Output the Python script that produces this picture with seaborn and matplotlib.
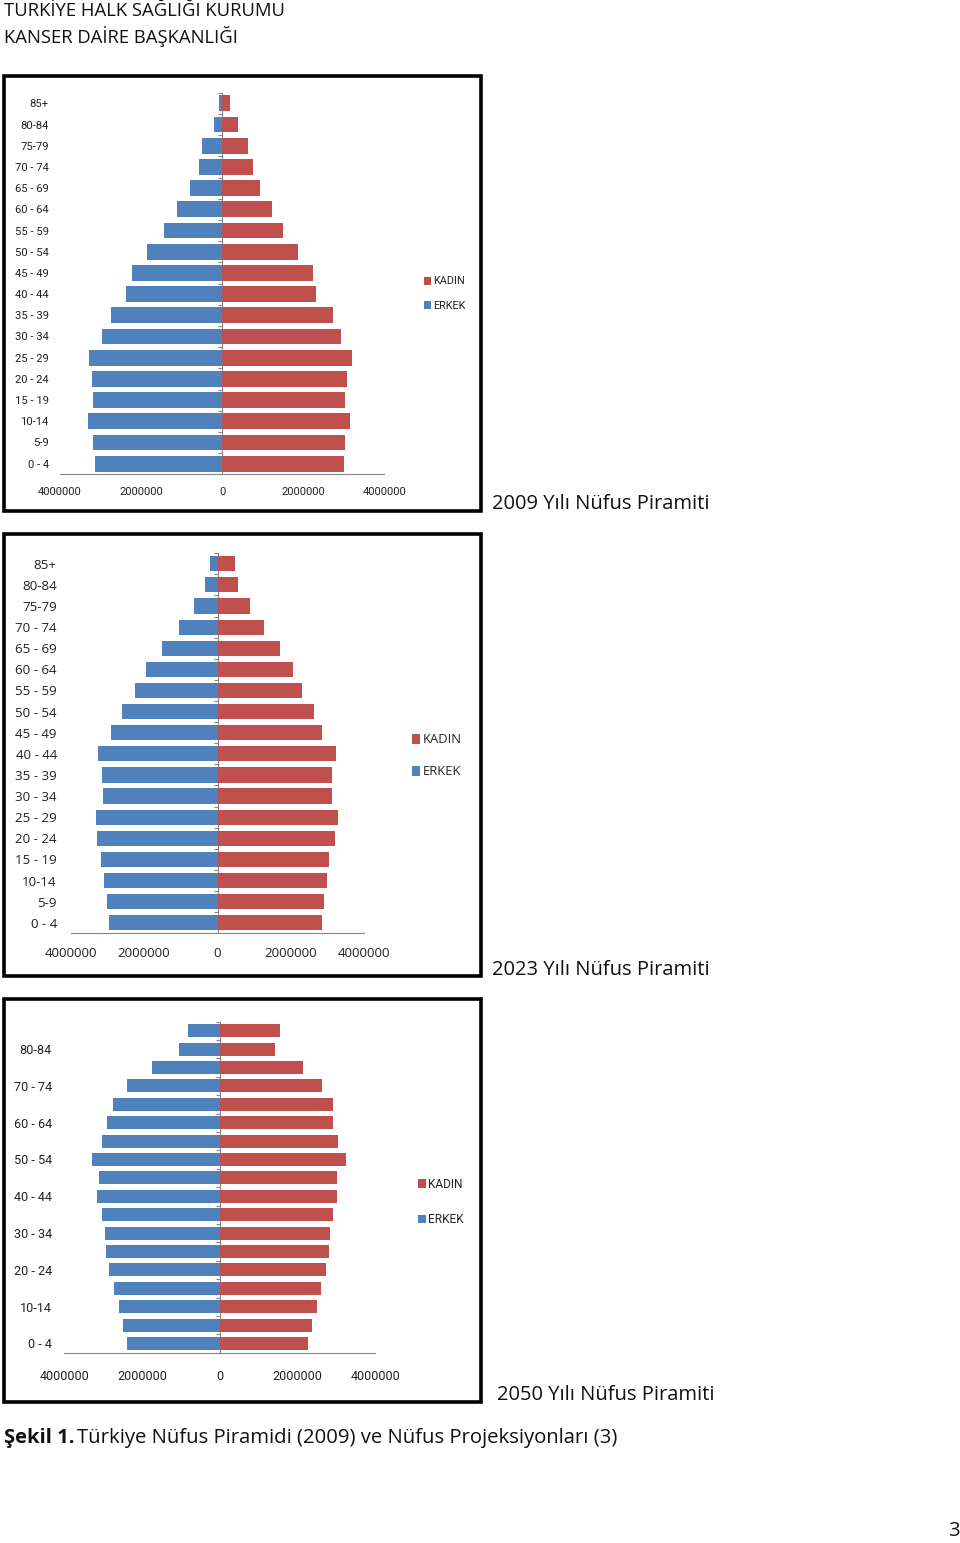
import numpy as np
import pandas as pd
import seaborn as sns
import matplotlib.pyplot as plt
from matplotlib.patches import Rectangle

# age groups, bottom (0-4) to top (85+)
ages = ["0 - 4", "5-9", "10-14", "15 - 19", "20 - 24", "25 - 29", "30 - 34",
        "35 - 39", "40 - 44", "45 - 49", "50 - 54", "55 - 59", "60 - 64",
        "65 - 69", "70 - 74", "75-79", "80-84", "85+"]

erkek_2009 = [3140000, 3180000, 3310000, 3180000, 3200000, 3290000, 2970000, 2740000, 2360000,
              2220000, 1850000, 1440000, 1110000, 800000, 570000, 490000, 205000, 74000]
kadin_2009 = [3010000, 3020000, 3160000, 3040000, 3090000, 3210000, 2920000, 2740000, 2310000,
              2230000, 1860000, 1490000, 1240000, 940000, 750000, 630000, 390000, 200000]

erkek_2023 = [2960000, 3010000, 3100000, 3170000, 3270000, 3310000, 3120000, 3150000, 3260000,
              2890000, 2600000, 2250000, 1950000, 1520000, 1060000, 630000, 340000, 210000]
kadin_2023 = [2860000, 2900000, 2980000, 3040000, 3190000, 3270000, 3110000, 3110000, 3220000,
              2860000, 2620000, 2300000, 2050000, 1690000, 1260000, 890000, 570000, 470000]

erkek_2050 = [2400000, 2490000, 2600000, 2730000, 2840000, 2920000, 2960000, 3030000, 3160000,
              3110000, 3280000, 3030000, 2900000, 2760000, 2400000, 1740000, 1050000, 810000]
kadin_2050 = [2280000, 2380000, 2500000, 2610000, 2720000, 2810000, 2840000, 2900000, 3010000,
              3010000, 3240000, 3040000, 2910000, 2900000, 2640000, 2130000, 1410000, 1560000]

x_ticks = [-4000000, -2000000, 0, 2000000, 4000000]
x_ticklabels = ["4000000", "2000000", "0", "2000000", "4000000"]
captions = ["2009 Yılı Nüfus Piramiti", "2023 Yılı Nüfus Piramiti", "2050 Yılı Nüfus Piramiti"]

BLUE = "#4F81BD"
RED = "#C0504D"
GREY = "#868686"
W, H = 960, 1543

sns.set_style("white")
plt.rcParams["font.family"] = ["Open Sans", "DejaVu Sans"]

fig = plt.figure(figsize=(W / 100, H / 100), dpi=100)


def fx(x):
    return x / W


def fy(y):
    return 1 - y / H


def pyramid(erkek, kadin, frame, box, bar_w, font, fsize, ypad, xpad, leg_xy, leg_size, leg_space,
            cap_xy, every_other=False):
    # frame around the chart
    l, t, r, b = frame
    fig.add_artist(Rectangle((fx(l), fy(b)), (r - l) / W, (b - t) / H, transform=fig.transFigure,
                             fill=False, ec="black", lw=2.6))
    al, at, ar, ab = box
    ax = fig.add_axes([fx(al), fy(ab), (ar - al) / W, (ab - at) / H])
    df = pd.DataFrame({
        "yas": ages + ages,
        "cins": ["KADIN"] * len(ages) + ["ERKEK"] * len(ages),
        "nufus": list(kadin) + [-v for v in erkek],
    })
    sns.barplot(data=df, x="nufus", y="yas", hue="cins", order=ages[::-1],
                hue_order=["KADIN", "ERKEK"], palette={"KADIN": RED, "ERKEK": BLUE},
                dodge=False, width=bar_w, orient="h", saturation=1, errorbar=None,
                linewidth=0, ax=ax)
    ax.set_xlim(-4000000, 4000000)
    ax.set_ylim(len(ages) - 0.5, -0.5)
    ax.set_xlabel("")
    ax.set_ylabel("")
    ax.set_xticks(x_ticks)
    ax.set_xticklabels(x_ticklabels, family=font, fontsize=fsize, color="#222222")
    labels = ages[::-1]
    if every_other:
        labels = [lab if i % 2 == 1 else "" for i, lab in enumerate(labels)]
    ax.set_yticks(range(len(ages)))
    ax.set_yticklabels(labels, family=font, fontsize=fsize, color="#222222")
    ax.tick_params(axis="x", length=4, width=0.8, color=GREY, pad=xpad)
    ax.tick_params(axis="y", length=0, pad=ypad)
    for s in ["top", "right", "left"]:
        ax.spines[s].set_visible(False)
    ax.spines["bottom"].set_color(GREY)
    ax.spines["bottom"].set_linewidth(0.8)
    ax.patch.set_alpha(0)

    # vertical axis at zero with small category ticks
    sec = ax.secondary_yaxis(0.5)
    sec.set_yticks(np.arange(-0.5, len(ages), 1))
    sec.set_yticklabels([])
    sec.tick_params(direction="in", length=3, width=0.8, color=GREY)
    for s in sec.spines.values():
        s.set_color(GREY)
        s.set_linewidth(0.8)

    handles, labs = ax.get_legend_handles_labels()
    ax.get_legend().remove()
    ax.legend(handles, labs, loc="upper left", bbox_to_anchor=(fx(leg_xy[0]), fy(leg_xy[1])),
              bbox_transform=fig.transFigure, frameon=False, borderpad=0, borderaxespad=0,
              handlelength=0.65, handleheight=0.75, handletextpad=0.2,
              labelspacing=leg_space, prop={"family": font, "size": leg_size})
    fig.text(fx(cap_xy[0]), fy(cap_xy[1]), cap_xy[2], fontsize=14.5, va="center", ha="left",
             color="#111111")
    return ax


pyramid(erkek_2009, kadin_2009, frame=(4, 76, 481, 511), box=(60, 92.7, 384.3, 474.3),
        bar_w=0.75, font=["Roboto", "DejaVu Sans"], fsize=8.1, ypad=8, xpad=5,
        leg_xy=(424, 276.5), leg_size=7.8, leg_space=1.33, cap_xy=(492, 504, captions[0]))

pyramid(erkek_2023, kadin_2023, frame=(4, 534, 481, 976), box=(70.7, 553.2, 364.3, 933.3),
        bar_w=0.72, font=["Open Sans", "DejaVu Sans"], fsize=9.6, ypad=10, xpad=6,
        leg_xy=(412, 733.5), leg_size=9.4, leg_space=1.45, cap_xy=(492, 970, captions[1]))

pyramid(erkek_2050, kadin_2050, frame=(4, 999, 481, 1402), box=(64.3, 1021.5, 375.3, 1352.7),
        bar_w=0.7, font=["Roboto", "DejaVu Sans"], fsize=9.1, ypad=9, xpad=8.5,
        leg_xy=(418, 1177.5), leg_size=8.6, leg_space=1.9, cap_xy=(497, 1395, captions[2]),
        every_other=True)

# page text
fig.text(fx(4), fy(11.5), "TÜRKİYE HALK SAĞLIĞI KURUMU", fontsize=13.3, va="center", ha="left",
         color="#111111")
fig.text(fx(4), fy(36.5), "KANSER DAİRE BAŞKANLIĞI", fontsize=13.3, va="center", ha="left",
         color="#111111")
fig.text(fx(4), fy(1438), "Şekil 1.", fontsize=14.5, fontweight="bold", va="center", ha="left",
         color="#111111")
fig.text(fx(77), fy(1438), "Türkiye Nüfus Piramidi (2009) ve Nüfus Projeksiyonları (3)",
         fontsize=14.6, va="center", ha="left", color="#111111")
fig.text(fx(954), fy(1531), "3", fontsize=14.5, va="center", ha="center", color="#111111")

fig.savefig("out.png", dpi=100)
